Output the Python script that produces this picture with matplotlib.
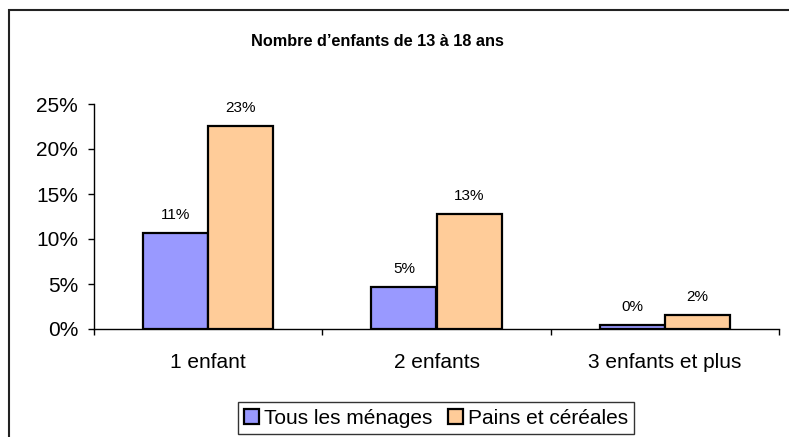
import matplotlib
matplotlib.use("Agg")
import matplotlib.pyplot as plt
import numpy as np
from matplotlib.patches import Patch, Rectangle
from matplotlib.ticker import PercentFormatter, FixedLocator

plt.rcParams['font.family'] = ['Liberation Sans', 'DejaVu Sans']

# data
categories = ['1 enfant', '2 enfants', '3 enfants et plus']
tous_menages = [0.107, 0.047, 0.0045]
pains_cereales = [0.226, 0.128, 0.016]
series_names = ['Tous les ménages', 'Pains et céréales']
title = 'Nombre d\u2019enfants de 13 à 18 ans'

blue = '#9999FF'
peach = '#FFCC99'

fig = plt.figure(figsize=(7.89, 4.37), dpi=100)
ax = fig.add_axes([94/789, 1 - 329/437, (779 - 94)/789, (329 - 104)/437])

x = np.arange(len(categories))
w = 0.285
b1 = ax.bar(x - w/2, tous_menages, w, color=blue, edgecolor='black', linewidth=1.6)
b2 = ax.bar(x + w/2, pains_cereales, w, color=peach, edgecolor='black', linewidth=1.6)

for bars, vals in ((b1, tous_menages), (b2, pains_cereales)):
    for r, v in zip(bars, vals):
        ax.annotate(f"{round(v*100):d}%", (r.get_x() + r.get_width()/2, v),
                    xytext=(0, 10), textcoords='offset points',
                    ha='center', va='baseline', fontsize=11)

ax.set_xlim(-0.5, len(categories) - 0.5)
ax.set_ylim(0, 0.25)
ax.set_yticks(np.arange(0, 0.26, 0.05))
ax.yaxis.set_major_formatter(PercentFormatter(1.0, decimals=0))
ax.set_xticks(x)
ax.set_xticklabels(categories)
ax.xaxis.set_minor_locator(FixedLocator(np.arange(-0.5, len(categories), 1.0)))
ax.tick_params(axis='x', which='major', length=0, pad=17, labelsize=15)
ax.tick_params(axis='x', which='minor', length=4.5, width=1, direction='out')
ax.tick_params(axis='y', length=4.5, width=1, direction='out', pad=7, labelsize=15)

for s in ('top', 'right'):
    ax.spines[s].set_visible(False)
for s in ('left', 'bottom'):
    ax.spines[s].set_linewidth(1)

fig.text(377/789, 1 - 42/437, title, ha='center', va='center',
         fontsize=11.7, fontweight='bold')

handles = [Patch(facecolor=blue, edgecolor='black', linewidth=1.6),
           Patch(facecolor=peach, edgecolor='black', linewidth=1.6)]
leg = fig.legend(handles, series_names, loc='center', bbox_to_anchor=(436/789, 1 - 418/437),
                 ncol=2, fontsize=15, frameon=True, fancybox=False, shadow=False,
                 handlelength=0.7, handleheight=0.7, handletextpad=0.25,
                 columnspacing=0.75, borderpad=0.3, borderaxespad=0)
leg.get_frame().set_edgecolor('black')
leg.get_frame().set_linewidth(1)

# chart frame, only top and left edges fall inside the image
fig.patches.append(Rectangle((9/789, -0.2), 1.2, 1.2 - 9.5/437,
                             transform=fig.transFigure, fill=False,
                             edgecolor='#222222', linewidth=1.5))

fig.savefig('out.png', dpi=100)
